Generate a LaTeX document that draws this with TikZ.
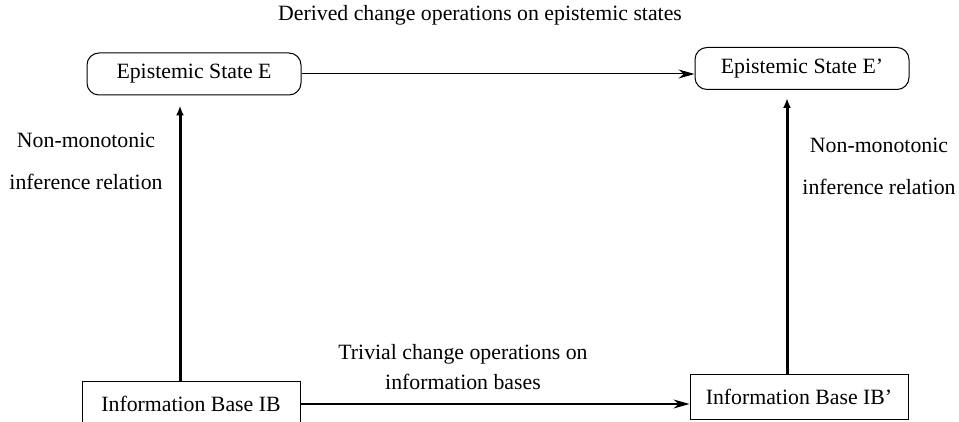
\documentclass[tikz,border=0pt]{standalone}
\usepackage{fontspec}
\setmainfont{Liberation Serif}
\usetikzlibrary{shapes,arrows.meta}

\begin{document}
\begin{tikzpicture}[x=0.5pt,y=-0.5pt,
  font=\fontsize{10.9}{13}\selectfont,
  state/.style={draw, rounded corners=6pt, minimum width=107pt, minimum height=21pt, line width=0.5pt},
  base/.style={draw, minimum width=109pt, minimum height=22pt, line width=0.5pt},
  change/.style={-{Stealth[length=8pt,width=4.5pt]}, line width=0.5pt},
  infer/.style={-{Latex[length=5pt,width=4pt]}, line width=1.5pt},
  note/.style={align=center, font=\fontsize{10.9}{21}\selectfont},
  note2/.style={align=center, font=\fontsize{10.9}{15}\selectfont}]

\useasboundingbox (0,0) rectangle (959,422);

\node (E) [state] at (194,74) {Epistemic State E};
\node (Ep) [state, node distance=304pt, right of=E, yshift=2.75pt] {Epistemic State E'};
\node (IB) [base, node distance=165pt, below of=E, xshift=-1.5pt] {Information Base IB};
\node (IBp) [base, node distance=304pt, right of=IB, yshift=3.5pt] {Information Base IB'};

\node (derived) at (480,15) {Derived change operations on epistemic states};
\node (trivial) [note2] at (463,367) {Trivial change operations on\\information bases};
\node (leftrel) [note] at (86,161) {Non-monotonic\\inference relation};
\node (rightrel) [note] at (879,166.5) {Non-monotonic\\inference relation};

\draw [change] (E) -- (E -| Ep.west);
\draw [change] (IB) -- (IB -| IBp.west);

\draw [infer] ([xshift=-5.5pt]IB.north) -- ([xshift=-7pt,yshift=-5pt]E.south);
\draw [infer] ([xshift=-6pt]IBp.north) -- ([xshift=-7.5pt,yshift=-4pt]Ep.south);

\end{tikzpicture}
\end{document}
